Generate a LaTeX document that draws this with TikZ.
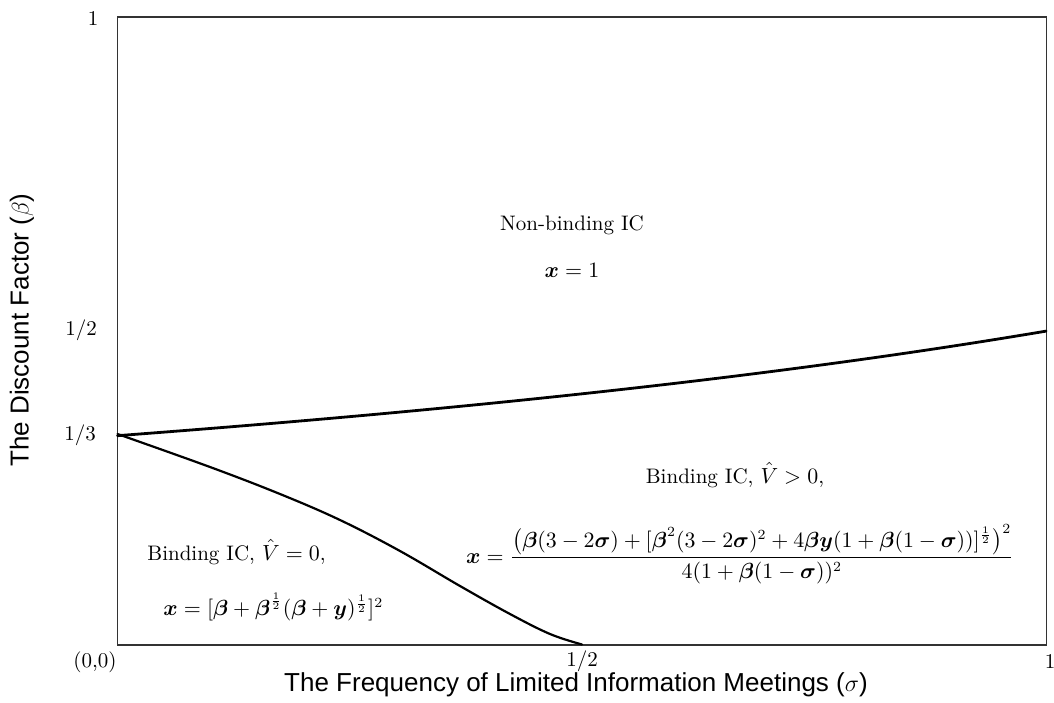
\documentclass[tikz,border=0pt]{standalone}
\usepackage{amsmath}
\usepackage{fontspec}
\newfontfamily\axisfont{Liberation Sans}
\newcommand\Bx{\boldsymbol{x}}
\newcommand\Bb{\boldsymbol{\beta}}
\newcommand\Bs{\boldsymbol{\sigma}}
\newcommand\By{\boldsymbol{y}}
\begin{document}
\begin{tikzpicture}[x=0.5pt,y=-0.5pt,
  lbl/.style={inner sep=0pt,font=\fontsize{10.5}{12.6}\selectfont},
  fml/.style={inner sep=0pt,font=\fontsize{10.5}{12.6}\selectfont},
  axl/.style={inner sep=0pt,font=\axisfont\fontsize{13}{15}\selectfont},
  frame/.style={draw=black!80,line width=0.7pt},
  curve/.style={line width=1.4pt,line join=round,line cap=round}]
\useasboundingbox (0,0) rectangle (1054,702);
\draw[frame] (117.5,17) rectangle (1046.7,645);
% curves
\draw[curve] plot[domain=0:1,samples=60] ({117.5+929.2*\x},{645-628/(3-\x)});
\draw[curve,line width=1.1pt] plot[smooth,tension=0.6] coordinates
  {(117.5,434) (210,467) (280,494) (340,520) (400,551) (460,586) (510,614) (550,634) (582,644.5)};
% tick labels
\node[lbl] (t1) at (93,19) {1};
\node[lbl] (th) at (81,330) {1/2};
\node[lbl] (tt) at (80,435) {1/3};
\node[lbl] (t0) at (95,662) {(0,0)};
\node[lbl] (bh) at (582,661) {1/2};
\node[lbl] (b1) at (1050,661) {1};
% axis labels
\node[axl,anchor=base] (xl) at (576,691) {The Frequency of Limited Information Meetings ($\sigma$)};
\node[axl,rotate=90] (yl) at (22,330) {The Discount Factor ($\beta$)};
% region labels
\node[lbl] (nb) at (572,225) {Non-binding IC};
\node[fml] (nbx) at (572,270) {$\Bx=1$};
\node[lbl] (bp) at (735,475) {Binding IC, $\hat V>0$,};
\node[fml] (bpx) at (740,554) {$\Bx=\dfrac{\bigl(\Bb(3-2\Bs)+[\Bb^2(3-2\Bs)^2+4\Bb\By(1+\Bb(1-\Bs))]^{\frac12}\bigr)^2}{4(1+\Bb(1-\Bs))^2}$};
\node[lbl,anchor=west] (bz) at (147,552) {Binding IC, $\hat V=0$,};
\node[fml,anchor=west] (bzx) at (163,607) {$\Bx=[\Bb+\Bb^{\frac12}(\Bb+\By)^{\frac12}]^2$};
\end{tikzpicture}
\end{document}
